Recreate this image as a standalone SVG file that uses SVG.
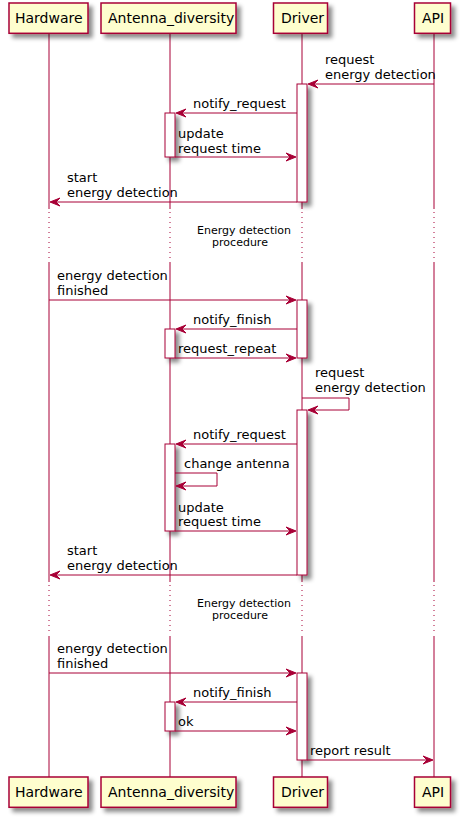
<svg xmlns="http://www.w3.org/2000/svg" width="460" height="818" viewBox="0 0 460 818">
<defs>
<filter id="sh" x="-1" y="-1" width="3" height="3">
<feGaussianBlur in="SourceAlpha" stdDeviation="2" result="b"/>
<feColorMatrix in="b" type="matrix" values="0 0 0 0 0 0 0 0 0 0 0 0 0 0 0 0 0 0 0.45 0" result="c"/>
<feOffset in="c" dx="4" dy="4" result="o"/>
<feMerge><feMergeNode in="o"/><feMergeNode in="SourceGraphic"/></feMerge>
</filter>
</defs>
<style>
.life{stroke:#A80036;stroke-width:1;fill:none}
.dot{stroke:#A80036;stroke-width:1;fill:none;stroke-dasharray:1,4}
.pbox{fill:#FEFECE;stroke:#A80036;stroke-width:1.5;filter:url(#sh)}
.act{fill:#FFFFFF;stroke:#A80036;stroke-width:1;filter:url(#sh)}
.msg{stroke:#A80036;stroke-width:1;fill:none}
.head{fill:#A80036;stroke:#A80036;stroke-width:1}
.pt{font-family:"DejaVu Sans",sans-serif;font-size:14px;fill:#000000}
.mt{font-family:"DejaVu Sans",sans-serif;font-size:13px;fill:#000000}
.dt{font-family:"DejaVu Sans",sans-serif;font-size:11px;fill:#000000;text-anchor:middle}
</style>
<rect width="460" height="818" fill="#FFFFFF"/>
<g id="lifelines">
<line class="life" x1="49" y1="34" x2="49" y2="209"/>
<line class="dot" x1="49" y1="212" x2="49" y2="260"/>
<line class="life" x1="49" y1="262" x2="49" y2="582"/>
<line class="dot" x1="49" y1="585" x2="49" y2="634"/>
<line class="life" x1="49" y1="636" x2="49" y2="777"/>
<line class="life" x1="170" y1="34" x2="170" y2="209"/>
<line class="dot" x1="170" y1="212" x2="170" y2="260"/>
<line class="life" x1="170" y1="262" x2="170" y2="582"/>
<line class="dot" x1="170" y1="585" x2="170" y2="634"/>
<line class="life" x1="170" y1="636" x2="170" y2="777"/>
<line class="life" x1="302" y1="34" x2="302" y2="209"/>
<line class="dot" x1="302" y1="212" x2="302" y2="260"/>
<line class="life" x1="302" y1="262" x2="302" y2="582"/>
<line class="dot" x1="302" y1="585" x2="302" y2="634"/>
<line class="life" x1="302" y1="636" x2="302" y2="777"/>
<line class="life" x1="434" y1="34" x2="434" y2="209"/>
<line class="dot" x1="434" y1="212" x2="434" y2="260"/>
<line class="life" x1="434" y1="262" x2="434" y2="582"/>
<line class="dot" x1="434" y1="585" x2="434" y2="634"/>
<line class="life" x1="434" y1="636" x2="434" y2="777"/>
</g>
<g id="participants">
<g id="Hardware"><rect class="pbox" x="9" y="3" width="79" height="30.3"/><text class="pt" x="15" y="23">Hardware</text></g>
<g id="Antenna_diversity"><rect class="pbox" x="101" y="3" width="135" height="30.3"/><text class="pt" x="108" y="23">Antenna_diversity</text></g>
<g id="Driver"><rect class="pbox" x="273.5" y="3" width="54" height="30.3"/><text class="pt" x="281" y="23">Driver</text></g>
<g id="API"><rect class="pbox" x="414.5" y="3" width="36" height="30.3"/><text class="pt" x="422" y="23">API</text></g>
<g id="Hardware_bottom"><rect class="pbox" x="9" y="777" width="79" height="30.3"/><text class="pt" x="15" y="797">Hardware</text></g>
<g id="Antenna_diversity_bottom"><rect class="pbox" x="101" y="777" width="135" height="30.3"/><text class="pt" x="108" y="797">Antenna_diversity</text></g>
<g id="Driver_bottom"><rect class="pbox" x="273.5" y="777" width="54" height="30.3"/><text class="pt" x="281" y="797">Driver</text></g>
<g id="API_bottom"><rect class="pbox" x="414.5" y="777" width="36" height="30.3"/><text class="pt" x="422" y="797">API</text></g>
</g>
<g id="activations">
<rect class="act" x="297" y="84" width="10" height="118"/>
<rect class="act" x="297" y="300" width="10" height="58"/>
<rect class="act" x="297" y="410" width="10" height="165"/>
<rect class="act" x="297" y="673" width="10" height="87"/>
<rect class="act" x="165" y="113" width="10" height="44"/>
<rect class="act" x="165" y="329" width="10" height="29"/>
<rect class="act" x="165" y="444" width="10" height="87"/>
<rect class="act" x="165" y="702" width="10" height="29"/>
</g>
<g id="delays">
<text class="dt" x="244" y="234">Energy detection</text>
<text class="dt" x="240" y="246">procedure</text>
<text class="dt" x="244" y="607">Energy detection</text>
<text class="dt" x="240" y="619">procedure</text>
</g>
<g id="connectors">
<!-- 1 API -> Driver -->
<line class="msg" x1="434" y1="84" x2="309" y2="84"/>
<polygon class="head" points="318,80 308,84 318,88 314,84"/>
<text class="mt" x="325" y="64">request</text>
<text class="mt" x="325" y="79">energy detection</text>
<!-- 2 notify_request -->
<line class="msg" x1="297" y1="113" x2="177" y2="113"/>
<polygon class="head" points="186,109 176,113 186,117 182,113"/>
<text class="mt" x="193" y="108">notify_request</text>
<!-- 3 update request time -->
<line class="msg" x1="175" y1="157" x2="295" y2="157"/>
<polygon class="head" points="286,153 296,157 286,161 290,157"/>
<text class="mt" x="178" y="138">update</text>
<text class="mt" x="178" y="153">request time</text>
<!-- 4 start energy detection -->
<line class="msg" x1="297" y1="202" x2="51" y2="202"/>
<polygon class="head" points="60,198 50,202 60,206 56,202"/>
<text class="mt" x="67" y="182">start</text>
<text class="mt" x="67" y="197">energy detection</text>
<!-- 5 energy detection finished -->
<line class="msg" x1="49" y1="300" x2="295" y2="300"/>
<polygon class="head" points="286,296 296,300 286,304 290,300"/>
<text class="mt" x="57" y="280">energy detection</text>
<text class="mt" x="57" y="295">finished</text>
<!-- 6 notify_finish -->
<line class="msg" x1="297" y1="329" x2="177" y2="329"/>
<polygon class="head" points="186,325 176,329 186,333 182,329"/>
<text class="mt" x="193" y="324">notify_finish</text>
<!-- 7 request_repeat -->
<line class="msg" x1="175" y1="358" x2="295" y2="358"/>
<polygon class="head" points="286,354 296,358 286,362 290,358"/>
<text class="mt" x="178" y="353">request_repeat</text>
<!-- 8 self request -->
<polyline class="msg" points="302,398 349,398 349,410 309,410"/>
<polygon class="head" points="318,406 308,410 318,414 314,410"/>
<text class="mt" x="315" y="377">request</text>
<text class="mt" x="315" y="392">energy detection</text>
<!-- 9 notify_request -->
<line class="msg" x1="297" y1="444" x2="177" y2="444"/>
<polygon class="head" points="186,440 176,444 186,448 182,444"/>
<text class="mt" x="193" y="439">notify_request</text>
<!-- 10 change antenna -->
<polyline class="msg" points="175,473 217,473 217,486 177,486"/>
<polygon class="head" points="186,482 176,486 186,490 182,486"/>
<text class="mt" x="184" y="468">change antenna</text>
<!-- 11 update request time -->
<line class="msg" x1="175" y1="531" x2="295" y2="531"/>
<polygon class="head" points="286,527 296,531 286,535 290,531"/>
<text class="mt" x="178" y="512">update</text>
<text class="mt" x="178" y="526">request time</text>
<!-- 12 start energy detection -->
<line class="msg" x1="297" y1="575" x2="51" y2="575"/>
<polygon class="head" points="60,571 50,575 60,579 56,575"/>
<text class="mt" x="67" y="555">start</text>
<text class="mt" x="67" y="570">energy detection</text>
<!-- 13 energy detection finished -->
<line class="msg" x1="49" y1="673" x2="295" y2="673"/>
<polygon class="head" points="286,669 296,673 286,677 290,673"/>
<text class="mt" x="57" y="653">energy detection</text>
<text class="mt" x="57" y="668">finished</text>
<!-- 14 notify_finish -->
<line class="msg" x1="297" y1="702" x2="177" y2="702"/>
<polygon class="head" points="186,698 176,702 186,706 182,702"/>
<text class="mt" x="193" y="697">notify_finish</text>
<!-- 15 ok -->
<line class="msg" x1="175" y1="731" x2="295" y2="731"/>
<polygon class="head" points="286,727 296,731 286,735 290,731"/>
<text class="mt" x="178" y="726">ok</text>
<!-- 16 report result -->
<line class="msg" x1="307" y1="760" x2="432" y2="760"/>
<polygon class="head" points="423,756 433,760 423,764 427,760"/>
<text class="mt" x="310" y="755">report result</text>
</g>
</svg>
